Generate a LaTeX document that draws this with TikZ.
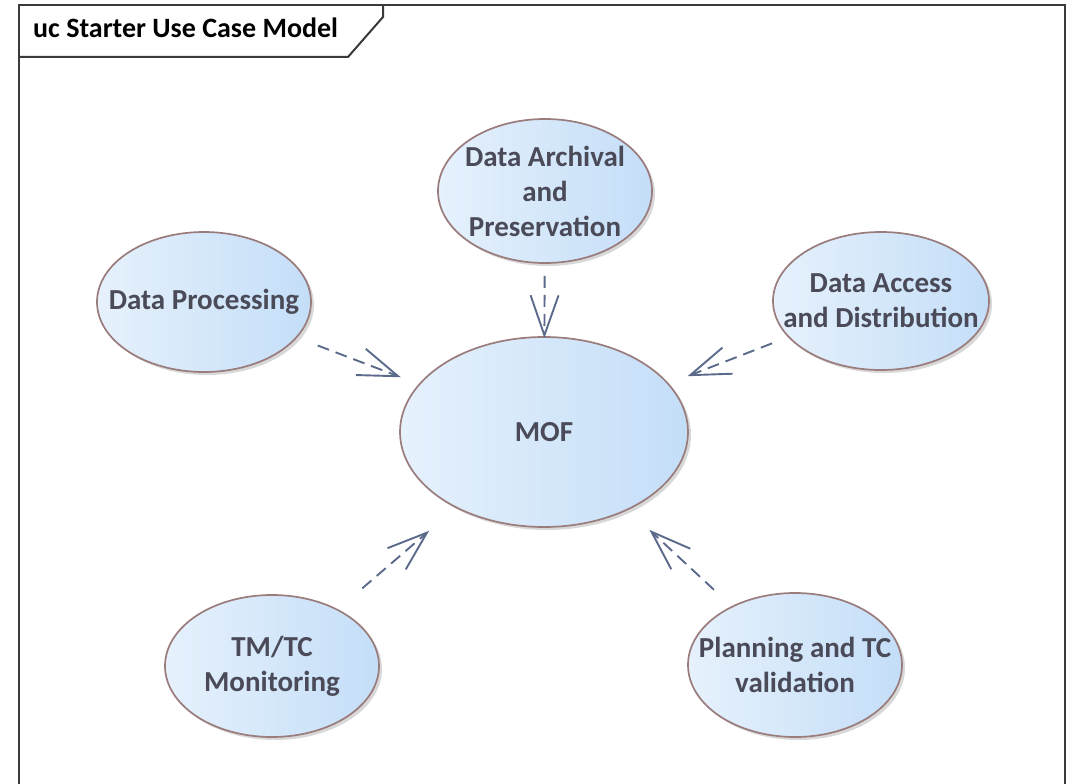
\documentclass[tikz,border=0pt]{standalone}
\usepackage{fontspec}
\setmainfont{Carlito}
\usetikzlibrary{shapes.geometric,arrows.meta,shadows}

\definecolor{ucfillL}{HTML}{E6F1FC}
\definecolor{ucfillR}{HTML}{C4DEF8}
\definecolor{ucborder}{HTML}{9A7C7C}
\definecolor{uctextc}{HTML}{4A4A58}
\definecolor{depcolor}{HTML}{5B6A8A}
\definecolor{framec}{HTML}{3A3A3A}

\tikzset{
  usecase/.style={ellipse, draw=ucborder, line width=1.7pt,
    left color=ucfillL, right color=ucfillR, inner sep=0pt,
    drop shadow={shadow xshift=3pt, shadow yshift=-3pt, opacity=0.22, fill=black!70}},
  uctext/.style={font=\bfseries\fontsize{29}{35}\selectfont, text=uctextc,
    align=center, inner sep=0pt},
  dep/.style={draw=depcolor, line width=1.9pt, dash pattern=on 12pt off 7pt,
    -{Straight Barb[length=40pt, width=28pt, line width=1.9pt]}},
  frameline/.style={draw=framec, line width=2pt}
}

\begin{document}
\begin{tikzpicture}[x=1pt, y=-1pt]
  \useasboundingbox (0,0) rectangle (1074,784);

  % diagram frame and its name tab
  \draw[frameline] (19,790) -- (19,5) -- (1065,5) -- (1065,790);
  \draw[frameline] (19,57) -- (348,57) -- (383,17) -- (383,5);
  \node[anchor=base west, font=\bfseries\fontsize{28}{30}\selectfont, text=black, inner sep=0pt]
    (title) at (33,38) {uc Starter Use Case Model};

  % use cases
  \node[usecase, minimum width=288pt, minimum height=190pt] (mof)  at (544,432) {};
  \node[usecase, minimum width=214pt, minimum height=144pt] (arch) at (545,191) {};
  \node[usecase, minimum width=214pt, minimum height=140pt] (proc) at (204,302) {};
  \node[usecase, minimum width=216pt, minimum height=138pt] (acc)  at (881,301) {};
  \node[usecase, minimum width=214pt, minimum height=142pt] (tmtc) at (272,666) {};
  \node[usecase, minimum width=214pt, minimum height=144pt] (plan) at (795,665) {};

  \node[uctext] (mof-t)  at (mof.center)  {MOF};
  \node[uctext] (arch-t) at (arch.center) {Data Archival\\and\\Preservation};
  \node[uctext] (proc-t) at (proc.center) {Data Processing};
  \node[uctext] (acc-t)  at (acc.center)  {Data Access\\and Distribution};
  \node[uctext] (tmtc-t) at (tmtc.center) {TM/TC\\Monitoring};
  \node[uctext] (plan-t) at (plan.center) {Planning and TC\\validation};

  % dependencies into MOF
  \draw[dep, shorten <=12pt, shorten >=-2pt] (arch) -- (mof);
  \draw[dep, shorten <=22pt, shorten >=19pt] (proc) -- (mof);
  \draw[dep, shorten <=17pt, shorten >=20pt] (acc) -- (mof);
  \draw[dep, shorten <=32pt, shorten >=35pt] (tmtc) -- (mof);
  \draw[dep, shorten <=24pt, shorten >=29pt] (plan) -- (mof);
\end{tikzpicture}
\end{document}
